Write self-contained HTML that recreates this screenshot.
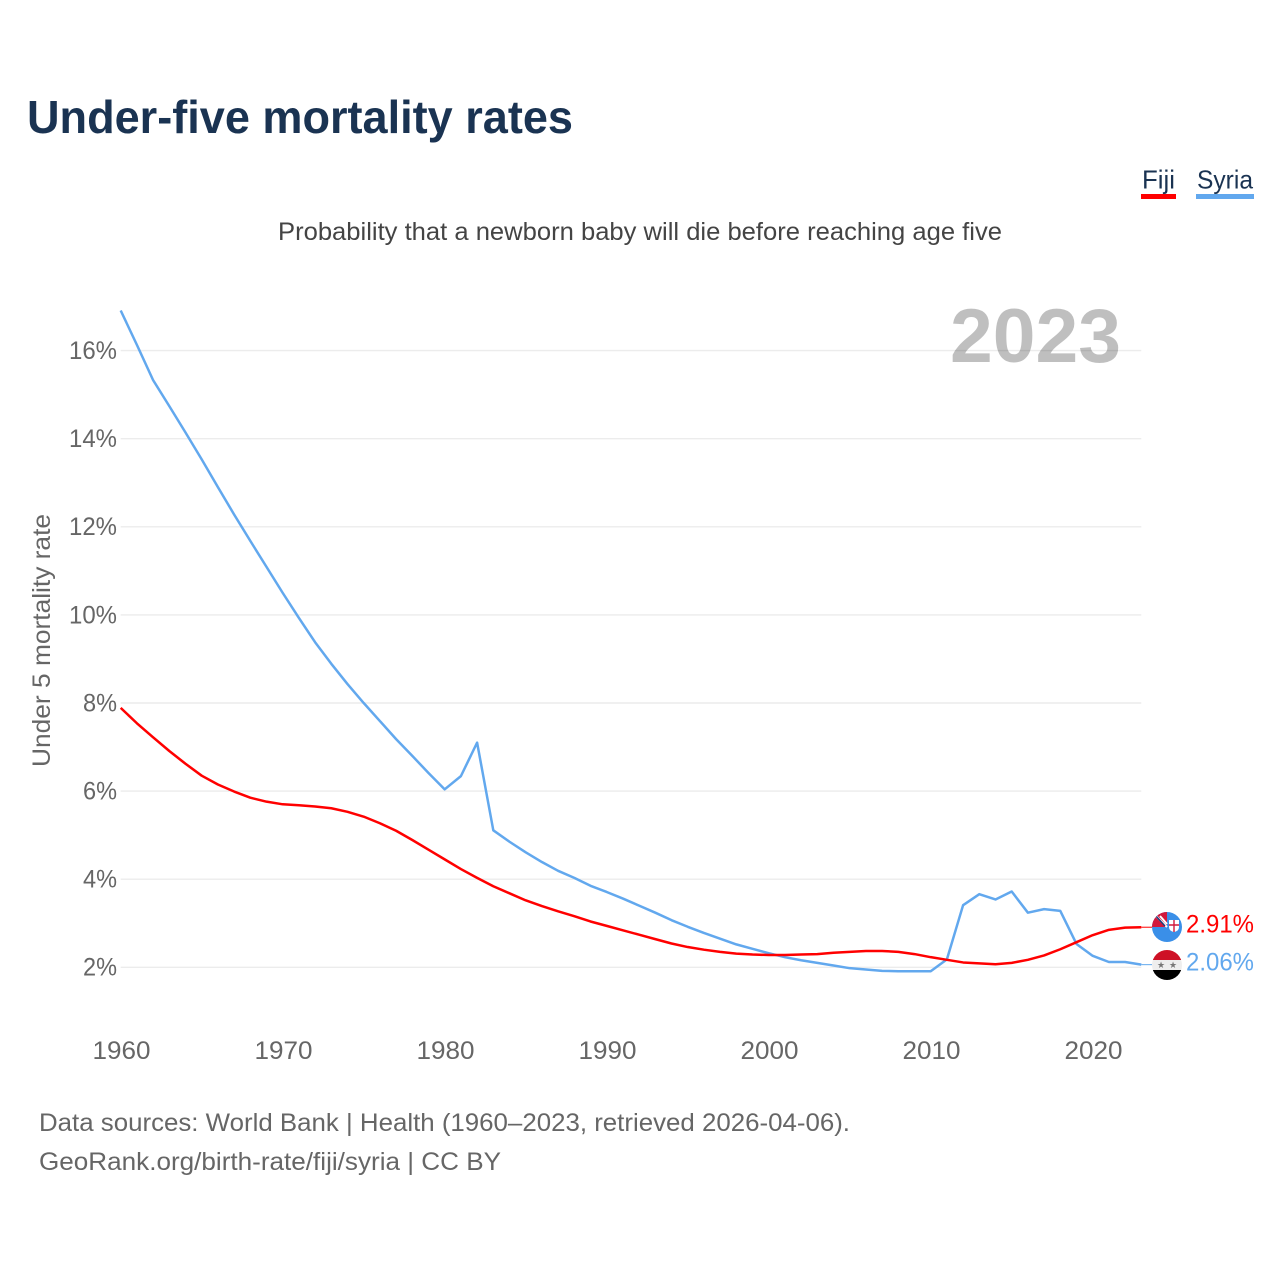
<!DOCTYPE html>
<html lang="en">
<head>
<meta charset="utf-8">
<title>Under-five mortality rates</title>
<style>
html,body{margin:0;padding:0;background:#fff;width:1280px;height:1280px;overflow:hidden}
svg{display:block}
text{font-family:"Liberation Sans",sans-serif}
</style>
</head>
<body>
<svg id="chart" width="1280" height="1280" viewBox="0 0 1280 1280" xmlns="http://www.w3.org/2000/svg">
  <defs>
    <clipPath id="fiji-clip"><circle cx="1167" cy="927" r="15"/></clipPath>
    <clipPath id="syria-clip"><circle cx="1167" cy="965" r="15"/></clipPath>
  </defs>
  <text x="27" y="133" font-size="46" font-weight="700" fill="#1a3352" textLength="546" lengthAdjust="spacingAndGlyphs">Under-five mortality rates</text>
  <text x="278" y="240" font-size="25" fill="#444444" textLength="724" lengthAdjust="spacingAndGlyphs">Probability that a newborn baby will die before reaching age five</text>

  <g>
    <text x="1142" y="188.5" font-size="26" fill="#1a3352" textLength="33" lengthAdjust="spacingAndGlyphs">Fiji</text>
    <rect x="1141" y="194" width="35" height="5" fill="#ff0000"/>
  </g>
  <g>
    <text x="1197" y="188.5" font-size="26" fill="#1a3352" textLength="56" lengthAdjust="spacingAndGlyphs">Syria</text>
    <rect x="1196" y="194" width="58" height="5" fill="#62a8ee"/>
  </g>

  <g id="grid"></g>
  <text x="950" y="362" font-size="76" font-weight="700" fill="#000000" fill-opacity="0.25" textLength="171" lengthAdjust="spacingAndGlyphs">2023</text>
  <g id="yticks"></g>
  <g id="xticks"></g>
  <text transform="translate(50,640.5) rotate(-90)" text-anchor="middle" font-size="25" fill="#666666" textLength="253" lengthAdjust="spacingAndGlyphs">Under 5 mortality rate</text>

  <g id="series"></g>

  <g clip-path="url(#fiji-clip)">
    <rect x="1152" y="912" width="30" height="30" fill="#3a8fe8"/>
    <rect x="1152" y="912" width="15" height="15" fill="#d2183c"/>
    <path d="M1156 916 L1167 927 M1160 916 L1167 924" stroke="#ffffff" stroke-width="2" fill="none"/>
    <path d="M1155 915 L1165 926" stroke="#1a3a7a" stroke-width="1.4" fill="none"/>
    <path d="M1169 920 h10 v7 q0 4 -5 5 q-5 -1 -5 -5 z" fill="#ffffff"/>
    <path d="M1174 920 v12 M1169 925 h10" stroke="#d2183c" stroke-width="1.4" fill="none"/>
  </g>
  <g clip-path="url(#syria-clip)">
    <rect x="1152" y="950" width="30" height="10" fill="#ce1126"/>
    <rect x="1152" y="960" width="30" height="10" fill="#eeeeee"/>
    <rect x="1152" y="970" width="30" height="10" fill="#000000"/>
    <text x="1161" y="968" text-anchor="middle" font-size="9" fill="#777777">★</text>
    <text x="1173" y="968" text-anchor="middle" font-size="9" fill="#777777">★</text>
  </g>
  <text x="1186" y="932.5" font-size="25" fill="#ff0000" textLength="68" lengthAdjust="spacingAndGlyphs">2.91%</text>
  <text x="1186" y="970.5" font-size="25" fill="#62a8ee" textLength="68" lengthAdjust="spacingAndGlyphs">2.06%</text>

  <text x="39" y="1131" font-size="25" fill="#666666" textLength="811" lengthAdjust="spacingAndGlyphs">Data sources: World Bank | Health (1960–2023, retrieved 2026-04-06).</text>
  <text x="39" y="1170" font-size="25" fill="#666666" textLength="462" lengthAdjust="spacingAndGlyphs">GeoRank.org/birth-rate/fiji/syria | CC BY</text>
</svg>
<script>
const startYear = 1960;
const yearTicks = [1960, 1970, 1980, 1990, 2000, 2010, 2020];
const percentTicks = [2, 4, 6, 8, 10, 12, 14, 16];
const fijiValues = [7.89,7.54,7.22,6.91,6.62,6.35,6.15,5.99,5.85,5.76,5.70,5.68,5.65,5.61,5.53,5.42,5.27,5.10,4.89,4.67,4.45,4.23,4.03,3.84,3.68,3.52,3.39,3.27,3.16,3.04,2.94,2.84,2.74,2.64,2.54,2.46,2.40,2.35,2.31,2.29,2.28,2.28,2.29,2.30,2.33,2.35,2.37,2.37,2.35,2.30,2.23,2.17,2.11,2.09,2.07,2.10,2.17,2.27,2.41,2.57,2.73,2.85,2.90,2.91];
const syriaValues = [16.91,16.13,15.33,14.74,14.14,13.53,12.90,12.28,11.68,11.09,10.50,9.93,9.38,8.89,8.43,8.00,7.59,7.18,6.80,6.41,6.04,6.34,7.10,5.11,4.85,4.61,4.39,4.19,4.03,3.85,3.71,3.56,3.40,3.24,3.07,2.92,2.78,2.65,2.52,2.42,2.32,2.23,2.16,2.10,2.04,1.98,1.95,1.92,1.91,1.91,1.91,2.18,3.41,3.66,3.54,3.72,3.24,3.32,3.28,2.53,2.26,2.12,2.12,2.06];

const SVG_NS = 'http://www.w3.org/2000/svg';
function xScale(year) { return 120.7 + (year - 1960) * 16.2; }
function yScale(pct) { return 967.3 - (pct - 2) * 44.05; }

const gridGroup = document.getElementById('grid');
const yTickGroup = document.getElementById('yticks');
const xTickGroup = document.getElementById('xticks');
const seriesGroup = document.getElementById('series');

percentTicks.forEach(function (p) {
  const line = document.createElementNS(SVG_NS, 'line');
  
  
  line.setAttribute('x1', xScale(1960));
  line.setAttribute('x2', xScale(2023));
  line.setAttribute('y1', yScale(p));
  line.setAttribute('y2', yScale(p));
  line.setAttribute('stroke', '#ececec');
  line.setAttribute('stroke-width', '1.4');
  gridGroup.appendChild(line);

  const label = document.createElementNS(SVG_NS, 'text');
  
  
  label.setAttribute('x', 117);
  label.setAttribute('y', yScale(p) + 8.4);
  label.setAttribute('text-anchor', 'end');
  label.setAttribute('font-size', '25');
  label.setAttribute('fill', '#666666');
  label.setAttribute('textLength', p >= 10 ? 48 : 34);
  label.setAttribute('lengthAdjust', 'spacingAndGlyphs');
  label.textContent = p + '%';
  yTickGroup.appendChild(label);
});

yearTicks.forEach(function (yr) {
  const label = document.createElementNS(SVG_NS, 'text');
  
  
  label.setAttribute('x', xScale(yr) + 0.8);
  label.setAttribute('y', 1059);
  label.setAttribute('text-anchor', 'middle');
  label.setAttribute('font-size', '25');
  label.setAttribute('fill', '#666666');
  label.setAttribute('textLength', 58);
  label.setAttribute('lengthAdjust', 'spacingAndGlyphs');
  label.textContent = yr;
  xTickGroup.appendChild(label);
});

function drawSeries(values, color, seriesName, connectorName) {
  const pts = values.map(function (v, i) {
    return xScale(startYear + i).toFixed(2) + ',' + yScale(v).toFixed(2);
  });
  const path = document.createElementNS(SVG_NS, 'polyline');
  
  
  path.setAttribute('points', pts.join(' '));
  path.setAttribute('fill', 'none');
  path.setAttribute('stroke', color);
  path.setAttribute('stroke-width', '2.5');
  path.setAttribute('stroke-linejoin', 'round');
  seriesGroup.appendChild(path);

  const lastIndex = values.length - 1;
  const conn = document.createElementNS(SVG_NS, 'line');
  
  
  conn.setAttribute('x1', xScale(startYear + lastIndex));
  conn.setAttribute('x2', 1152);
  conn.setAttribute('y1', yScale(values[lastIndex]));
  conn.setAttribute('y2', yScale(values[lastIndex]));
  conn.setAttribute('stroke', color);
  conn.setAttribute('stroke-width', '1');
  seriesGroup.appendChild(conn);
}
drawSeries(syriaValues, '#62a8ee', 'series-line-syria', 'connector-syria');
drawSeries(fijiValues, '#ff0000', 'series-line-fiji', 'connector-fiji');
</script>
</body>
</html>
